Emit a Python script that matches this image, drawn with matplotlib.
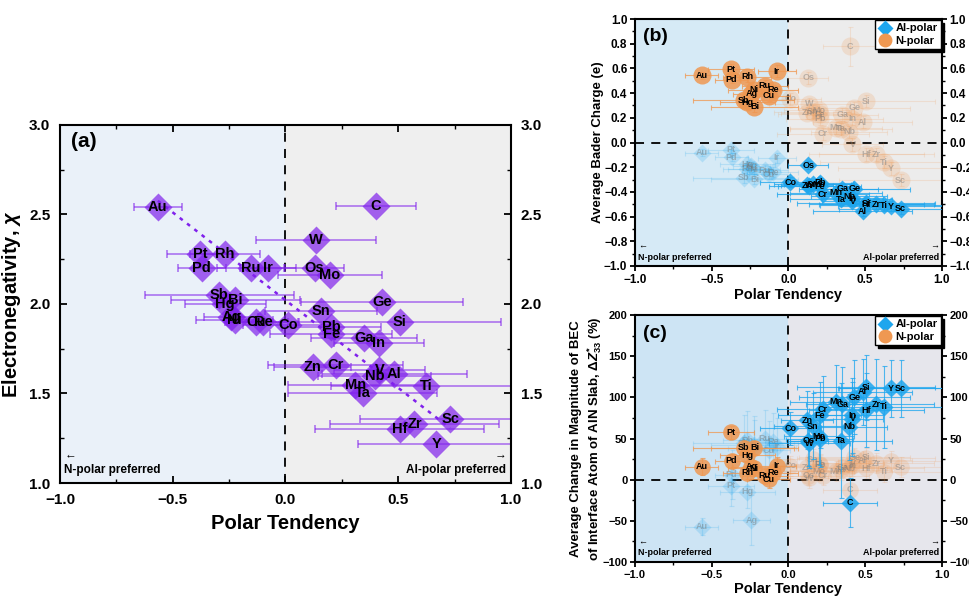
import numpy as np
import matplotlib.pyplot as plt
from matplotlib.lines import Line2D
from matplotlib.ticker import MultipleLocator

plt.rcParams['font.family'] = ['Liberation Sans', 'DejaVu Sans']
plt.rcParams['font.weight'] = 'bold'
plt.rcParams['axes.labelweight'] = 'bold'
plt.rcParams['mathtext.fontset'] = 'custom'
plt.rcParams['mathtext.rm'] = 'Liberation Sans:bold'
plt.rcParams['mathtext.it'] = 'Liberation Sans:italic:bold'
plt.rcParams['mathtext.bf'] = 'Liberation Sans:bold'

# ---- data ----
elements = ['Au', 'Pt', 'Rh', 'Pd', 'Ru', 'Ir', 'Sb', 'Bi', 'Hg', 'Ag', 'Ni', 'Cu', 'Re',
            'Co', 'C', 'W', 'Os', 'Mo', 'Ge', 'Sn', 'Si', 'Pb', 'Fe', 'Ga', 'In', 'Zn',
            'Cr', 'V', 'Nb', 'Al', 'Ti', 'Mn', 'Ta', 'Sc', 'Zr', 'Hf', 'Y']
polar = [-0.566, -0.377, -0.270, -0.371, -0.155, -0.077, -0.293, -0.222, -0.267, -0.241,
         -0.226, -0.130, -0.100, 0.012, 0.402, 0.136, 0.129, 0.198, 0.429, 0.158, 0.506,
         0.203, 0.203, 0.350, 0.414, 0.121, 0.222, 0.417, 0.395, 0.483, 0.624, 0.310,
         0.343, 0.730, 0.572, 0.506, 0.668]
polar_err = [0.105, 0.150, 0.155, 0.107, 0.150, 0.124, 0.330, 0.285, 0.180, 0.120, 0.170,
             0.140, 0.160, 0.200, 0.176, 0.266, 0.130, 0.230, 0.360, 0.250, 0.450, 0.220,
             0.270, 0.235, 0.200, 0.170, 0.300, 0.200, 0.250, 0.320, 0.420, 0.300, 0.330,
             0.400, 0.373, 0.375, 0.346]
electroneg = [2.54, 2.28, 2.28, 2.20, 2.20, 2.20, 2.05, 2.02, 2.00, 1.93, 1.91, 1.90, 1.90,
              1.88, 2.55, 2.36, 2.20, 2.16, 2.01, 1.96, 1.90, 1.87, 1.83, 1.81, 1.78, 1.65,
              1.66, 1.63, 1.60, 1.61, 1.54, 1.55, 1.50, 1.36, 1.33, 1.30, 1.22]

# average Bader charge (e)
bader_al = [-0.083, -0.057, -0.213, -0.119, -0.225, -0.124, -0.286, -0.299, -0.178, -0.190,
            -0.218, -0.259, -0.240, -0.320, np.nan, -0.350, -0.183, -0.340, -0.374, -0.340,
            -0.493, -0.326, -0.356, -0.374, -0.450, -0.347, -0.420, -0.474, -0.434, -0.555,
            -0.509, -0.407, -0.460, -0.536, -0.500, -0.500, -0.515]
bader_al_err = [0.03, 0.03, 0.04, 0.03, 0.04, 0.04, 0.04, 0.04, 0.03, 0.03, 0.04, 0.04, 0.04,
                0.04, 0.0, 0.04, 0.03, 0.04, 0.04, 0.04, 0.04, 0.04, 0.04, 0.04, 0.04, 0.04,
                0.04, 0.04, 0.04, 0.04, 0.04, 0.04, 0.04, 0.04, 0.04, 0.04, 0.04]
bader_n = [0.544, 0.595, 0.531, 0.509, 0.460, 0.579, 0.342, 0.288, 0.326, 0.396, 0.428, 0.380,
           0.428, 0.353, 0.778, 0.313, 0.523, 0.261, 0.280, 0.250, 0.334, 0.194, 0.230, 0.226,
           0.191, 0.240, 0.070, -0.016, 0.086, 0.164, -0.159, 0.119, 0.110, -0.305, -0.097,
           -0.097, -0.210]
bader_n_err = [0.03, 0.04, 0.04, 0.03, 0.05, 0.05, 0.04, 0.04, 0.04, 0.04, 0.04, 0.04, 0.04,
               0.05, 0.16, 0.05, 0.05, 0.05, 0.05, 0.05, 0.05, 0.05, 0.05, 0.05, 0.05, 0.05,
               0.05, 0.05, 0.05, 0.05, 0.05, 0.05, 0.05, 0.05, 0.05, 0.05, 0.05]

# average change in |BEC| of interface atom (%)
bec_al = [-57, -7.5, 48, 6, 50, 40, 44, 42, -14.5, -49, 38, 36, 46, 62.3, -27.9, 44.1, 47,
          53, 99.9, 65.1, 112, 50, 78.5, 91.8, 78, 72.4, 85.4, 74, 64.3, 106.7, 88.5, 94.6,
          47.3, 110.8, 91.4, 84.5, 110.8]
bec_al_err = [10, 25, 35, 30, 35, 35, 35, 35, 20, 30, 35, 35, 35, 20, 30, 30, 30, 35, 45, 40,
              40, 35, 40, 45, 45, 35, 40, 45, 40, 40, 50, 45, 70, 35, 55, 45, 35]
bec_n = [15.8, 57.4, 8.5, 23, 4.9, 17, 38.8, 38.8, 29.9, 15.8, 13.7, 0.4, 8.5, 17, -12.5, 2,
         5, 10, 27, 25, 26.7, 19, 18, 15, 17, 15, 5, 20, 14, 23.4, 9.7, 10.5, 12, 15, 19.9,
         13.8, 23]
bec_n_err = [10, 8, 8, 8, 8, 10, 8, 8, 8, 8, 8, 10, 10, 12, 15, 12, 12, 12, 12, 12, 12, 12,
             12, 12, 12, 12, 12, 12, 12, 12, 12, 12, 12, 12, 12, 12, 12]

purple = '#8021ec'
blue = '#1ea6ee'
orange = '#ef9852'


def style_axes(ax, ylim, ymaj, ymin, fs, left_col, right_col, tick_dir, pad, length):
    ax.axvspan(-1, 0, color=left_col, zorder=0, lw=0)
    ax.axvspan(0, 1, color=right_col, zorder=0, lw=0)
    ax.axvline(0, color='k', ls=(0, (5, 4)), lw=1.3, zorder=1)
    ax.set_xlim(-1, 1)
    ax.set_ylim(*ylim)
    ax.xaxis.set_major_locator(MultipleLocator(0.5))
    ax.xaxis.set_minor_locator(MultipleLocator(0.25))
    ax.yaxis.set_major_locator(MultipleLocator(ymaj))
    ax.yaxis.set_minor_locator(MultipleLocator(ymin))
    ax.tick_params(which='both', direction=tick_dir, right=True, labelright=True,
                   labelsize=fs, pad=pad)
    ax.tick_params(which='major', length=length, width=1.3)
    ax.tick_params(which='minor', length=length * 0.6, width=1)
    for s in ax.spines.values():
        s.set_linewidth(1.5)


def draw_pair(ax, al_vals, al_err, n_vals, n_err, ms_d, ms_o, fs):
    for faded in (True, False):
        for i, el in enumerate(elements):
            x = polar[i]
            al_pref = x > 0
            for vals, errs, col, mk, ms, is_al in ((al_vals, al_err, blue, 'D', ms_d, True),
                                                   (n_vals, n_err, orange, 'o', ms_o, False)):
                y = vals[i]
                if np.isnan(y):
                    continue
                is_faded = (is_al != al_pref)
                if is_faded != faded:
                    continue
                a = 0.2 if faded else 0.85
                z = 2 if faded else 3
                ax.errorbar(x, y, xerr=polar_err[i], yerr=errs[i], fmt='none', ecolor=col,
                            alpha=a * 0.9, elinewidth=0.8, capsize=1.8, capthick=0.8,
                            zorder=z)
                ax.plot(x, y, marker=mk, ms=ms, color=col, mec='none', alpha=a, zorder=z)
                ax.text(x, y, el, ha='center', va='center', fontsize=fs, fontweight='bold',
                        color='#777777' if faded else 'k', alpha=0.45 if faded else 1,
                        zorder=z + 0.5)


def preference_text(ax, y_txt, y_arrow, fs):
    ax.text(-0.98, y_txt, 'N-polar preferred', fontsize=fs, ha='left', va='center', zorder=5)
    ax.text(0.98, y_txt, 'Al-polar preferred', fontsize=fs, ha='right', va='center', zorder=5)
    ax.text(-0.98, y_arrow, '\u2190', fontsize=fs, ha='left', va='center', zorder=5)
    ax.text(0.98, y_arrow, '\u2192', fontsize=fs, ha='right', va='center', zorder=5)


fig = plt.figure(figsize=(9.69, 5.98), dpi=100)

# ---- (a) ----
ax_a = fig.add_axes([0.0619, 0.1923, 0.4654, 0.5987])
style_axes(ax_a, (1.0, 3.0), 0.5, 0.25, 11, '#eaf1f9', '#efefef', 'in', 7, 5)
ax_a.tick_params(which='both', top=True)
ax_a.errorbar(polar, electroneg, xerr=polar_err, fmt='none', ecolor=purple, alpha=0.65,
              elinewidth=1.1, capsize=3, capthick=1.1, zorder=2)
ax_a.plot(polar, electroneg, 'D', ms=14, color=purple, mec='none', alpha=0.7, zorder=3)
# orthogonal (total least squares) line through the data
pts = np.column_stack([polar, electroneg])
centre = pts.mean(axis=0)
_, _, vt = np.linalg.svd(pts - centre)
slope = vt[0, 1] / vt[0, 0]
xs = np.array([min(polar), max(polar)])
ax_a.plot(xs, centre[1] + slope * (xs - centre[0]), ls=(0, (1.5, 2.2)), color=purple,
          lw=1.8, zorder=3.2)
for el, x, y in zip(elements, polar, electroneg):
    ax_a.text(x, y, el, ha='center', va='center', fontsize=10.5, fontweight='bold', zorder=4)
ax_a.text(-0.95, 2.91, '(a)', fontsize=15, fontweight='bold', ha='left', va='center')
preference_text(ax_a, 1.075, 1.16, 8.5)
ax_a.set_xlabel('Polar Tendency', fontsize=14.5, labelpad=5)
ax_a.set_ylabel(r'Electronegativity, $\chi$', fontsize=14.5, labelpad=4)

legend_handles = [Line2D([], [], marker='D', ls='none', ms=8, color=blue, mec='none'),
                  Line2D([], [], marker='o', ls='none', ms=10, color=orange, mec='none')]

# ---- (b) ----
ax_b = fig.add_axes([0.6553, 0.5552, 0.3168, 0.4130])
style_axes(ax_b, (-1.0, 1.0), 0.2, 0.1, 8.5, '#d6eaf6', '#ececec', 'out', 2, 3.5)
ax_b.axhline(0, color='k', ls=(0, (5, 4)), lw=1.3, zorder=1)
draw_pair(ax_b, bader_al, bader_al_err, bader_n, bader_n_err, 9.5, 13, 6.5)
ax_b.text(-0.95, 0.86, '(b)', fontsize=14, fontweight='bold', ha='left', va='center')
preference_text(ax_b, -0.93, -0.84, 6.5)
ax_b.set_xlabel('Polar Tendency', fontsize=10.5, labelpad=2)
ax_b.set_ylabel('Average Bader Charge (e)', fontsize=9.5)
ax_b.yaxis.set_label_coords(-0.1, 0.5)
ax_b.legend(legend_handles, ['Al-polar', 'N-polar'], loc='upper right', fontsize=8,
            frameon=True, fancybox=False, edgecolor='k', framealpha=1,
            shadow={'color': 'k', 'alpha': 1}, borderaxespad=0.1, handletextpad=0.3,
            borderpad=0.3, labelspacing=0.2, handlelength=1.2)

# ---- (c) ----
ax_c = fig.add_axes([0.6553, 0.0602, 0.3168, 0.4130])
style_axes(ax_c, (-100, 200), 50, 25, 8, '#cde4f4', '#e6e6ec', 'out', 2, 3.5)
ax_c.axhline(0, color='k', ls=(0, (5, 4)), lw=1.3, zorder=1)
draw_pair(ax_c, bec_al, bec_al_err, bec_n, bec_n_err, 9.5, 12, 6.5)
ax_c.text(-0.95, 178, '(c)', fontsize=14, fontweight='bold', ha='left', va='center')
preference_text(ax_c, -89, -75, 6.5)
ax_c.set_xlabel('Polar Tendency', fontsize=10.5, labelpad=2)
ax_c.set_ylabel('Average Change in Magnitude of BEC\n'
                r'of Interface Atom of AlN Slab, $\Delta Z^{*}_{33}$ (%)',
                fontsize=9.5, linespacing=1.25)
ax_c.yaxis.set_label_coords(-0.1, 0.5)
ax_c.legend(legend_handles, ['Al-polar', 'N-polar'], loc='upper right', fontsize=8,
            frameon=True, fancybox=False, edgecolor='k', framealpha=1,
            shadow={'color': 'k', 'alpha': 1}, borderaxespad=0.1, handletextpad=0.3,
            borderpad=0.3, labelspacing=0.2, handlelength=1.2)

fig.savefig('out.png', dpi=100)
